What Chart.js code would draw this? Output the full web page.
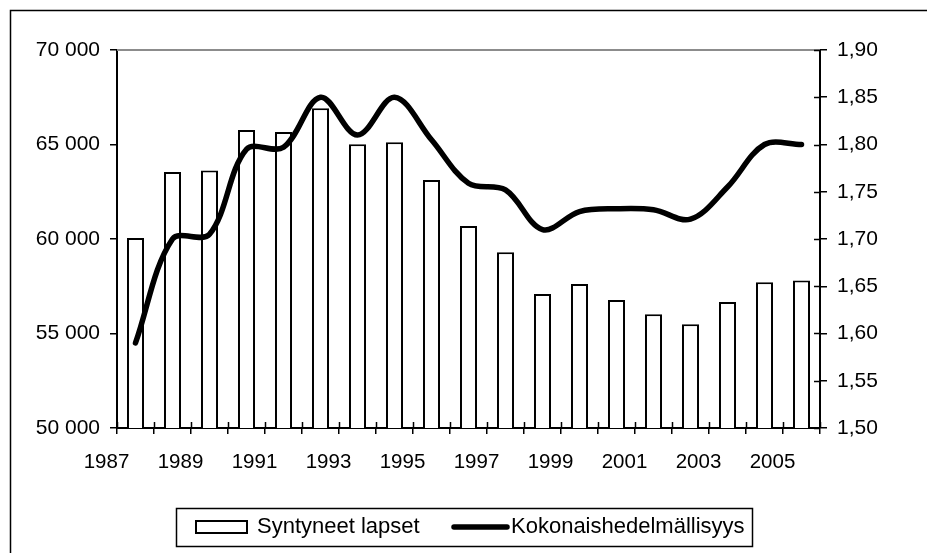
<!DOCTYPE html>
<html lang="fi">
<head>
    <meta charset="UTF-8">
    <title>Syntyneet lapset ja kokonaishedelmällisyys</title>
    <script src="https://cdn.jsdelivr.net/npm/chart.js"></script>
    <style>
        body { margin: 0; background: #fff; }
        canvas { display: block; }
    </style>
</head>
<body>
    <canvas id="birthChart" width="927" height="553"></canvas>

    <script>
        // Data
        const years = ['1987', '1988', '1989', '1990', '1991', '1992', '1993', '1994', '1995', '1996',
                       '1997', '1998', '1999', '2000', '2001', '2002', '2003', '2004', '2005'];
        const births = [60050, 63540, 63630, 65770, 65660, 66920, 65010, 65120, 63120, 60690,
                        59300, 57090, 57620, 56770, 56020, 55490, 56670, 57710, 57810];
        const fertility = [1.59, 1.70, 1.705, 1.795, 1.797, 1.85, 1.81, 1.85, 1.805, 1.759,
                           1.752, 1.71, 1.729, 1.732, 1.731, 1.721, 1.755, 1.80, 1.80];
        const birthsLabel = 'Syntyneet lapset';
        const fertilityLabel = 'Kokonaishedelmällisyys';

        const FONT = '"Liberation Sans", Arial, sans-serif';

        const fmtThousands = v => String(Math.round(v)).replace(/\B(?=(\d{3})+(?!\d))/g, ' ');
        const fmtDecimal = v => Number(v).toFixed(2).replace('.', ',');

        // background, plot frame, inner tick halves, outer frame and boxed legend
        const framePlugin = {
            id: 'frame',
            beforeDraw(chart) {
                const c = chart.ctx;
                c.save();
                c.fillStyle = '#fff';
                c.fillRect(0, 0, chart.width, chart.height);
                c.restore();
            },
            beforeDatasetsDraw(chart) {
                const { ctx, chartArea: a } = chart;
                ctx.save();
                ctx.strokeStyle = '#8c8c8c';
                ctx.lineWidth = 2;
                ctx.beginPath();
                ctx.moveTo(a.left, a.top);
                ctx.lineTo(a.right, a.top);
                ctx.stroke();
                ctx.restore();
            },
            afterDraw(chart) {
                const { ctx, chartArea: a, scales } = chart;
                ctx.save();
                ctx.strokeStyle = '#000';
                ctx.lineWidth = 1.5;

                // x ticks cross the axis: draw the inner half
                const x = scales.x;
                const step = x.getPixelForValue(1) - x.getPixelForValue(0);
                ctx.beginPath();
                for (let i = 0; i <= years.length; i++) {
                    const px = Math.round(x.getPixelForValue(i) - step / 2) + 0.5;
                    ctx.moveTo(px, a.bottom);
                    ctx.lineTo(px, a.bottom - 6);
                }
                // right axis ticks cross too
                const y1 = scales.y1;
                y1.ticks.forEach(t => {
                    const py = Math.round(y1.getPixelForValue(t.value)) + 0.5;
                    ctx.moveTo(a.right, py);
                    ctx.lineTo(a.right - 6, py);
                });
                ctx.stroke();

                // outer chart frame (top and left edges visible)
                ctx.lineWidth = 1.5;
                ctx.beginPath();
                ctx.moveTo(10.5, chart.height);
                ctx.lineTo(10.5, 10.5);
                ctx.lineTo(chart.width, 10.5);
                ctx.stroke();

                // legend box
                const lg = { left: 176, top: 508, width: 576, height: 38 };
                ctx.lineWidth = 1.5;
                ctx.strokeRect(lg.left + 0.5, lg.top + 0.5, lg.width, lg.height);

                const midY = lg.top + lg.height / 2;
                const barDs = chart.data.datasets[0];
                const lineDs = chart.data.datasets[1];

                ctx.fillStyle = barDs.backgroundColor;
                ctx.strokeStyle = barDs.borderColor;
                ctx.lineWidth = 2;
                ctx.fillRect(196, midY - 6, 51, 12);
                ctx.strokeRect(196, midY - 6, 51, 12);

                ctx.fillStyle = '#000';
                ctx.font = '22px ' + FONT;
                ctx.textBaseline = 'alphabetic';
                ctx.fillText(barDs.label, 257, midY + 6);

                ctx.strokeStyle = lineDs.borderColor;
                ctx.lineWidth = lineDs.borderWidth;
                ctx.lineCap = 'round';
                ctx.beginPath();
                ctx.moveTo(454, midY);
                ctx.lineTo(507, midY);
                ctx.stroke();

                ctx.fillText(lineDs.label, 511, midY + 6);
                ctx.restore();
            }
        };

        const ctx = document.getElementById('birthChart').getContext('2d');
        const birthChart = new Chart(ctx, {
            type: 'bar',
            data: {
                labels: years,
                datasets: [
                    {
                        type: 'bar',
                        label: birthsLabel,
                        data: births,
                        yAxisID: 'y',
                        backgroundColor: '#ffffff',
                        borderColor: '#000000',
                        borderWidth: 2,
                        borderSkipped: false,
                        categoryPercentage: 1.0,
                        barPercentage: 0.46,
                        order: 2
                    },
                    {
                        type: 'line',
                        label: fertilityLabel,
                        data: fertility,
                        yAxisID: 'y1',
                        borderColor: '#000000',
                        borderWidth: 5.5,
                        borderCapStyle: 'round',
                        borderJoinStyle: 'round',
                        tension: 0.35,
                        pointRadius: 0,
                        fill: false,
                        order: 1
                    }
                ]
            },
            options: {
                responsive: false,
                animation: false,
                layout: { padding: { top: 50, left: 0, right: 0, bottom: 0 } },
                plugins: {
                    legend: { display: false },
                    tooltip: { enabled: false }
                },
                scales: {
                    x: {
                        offset: true,
                        afterFit(s) { s.height = 125; },
                        border: { color: '#000', width: 2 },
                        grid: {
                            offset: true,
                            drawOnChartArea: false,
                            color: '#000',
                            lineWidth: 1.5,
                            tickLength: 6
                        },
                        ticks: {
                            autoSkip: false,
                            maxRotation: 0,
                            minRotation: 0,
                            labelOffset: -29,
                            padding: 16,
                            color: '#000',
                            font: { family: FONT, size: 20.5 },
                            callback(val, i) {
                                return i % 2 === 0 ? this.getLabelForValue(val) : '';
                            }
                        }
                    },
                    y: {
                        position: 'left',
                        min: 50000,
                        max: 70000,
                        afterFit(s) { s.width = 117; },
                        border: { color: '#000', width: 2 },
                        grid: {
                            drawOnChartArea: false,
                            color: '#000',
                            lineWidth: 1.5,
                            tickLength: 7
                        },
                        ticks: {
                            stepSize: 5000,
                            padding: 10,
                            color: '#000',
                            font: { family: FONT, size: 21 },
                            callback: v => fmtThousands(v)
                        }
                    },
                    y1: {
                        position: 'right',
                        min: 1.5,
                        max: 1.9,
                        afterFit(s) { s.width = 107; },
                        border: { color: '#000', width: 2 },
                        grid: {
                            drawOnChartArea: false,
                            color: '#000',
                            lineWidth: 1.5,
                            tickLength: 7
                        },
                        ticks: {
                            stepSize: 0.05,
                            padding: 10,
                            color: '#000',
                            font: { family: FONT, size: 21 },
                            callback: v => fmtDecimal(v)
                        }
                    }
                }
            },
            plugins: [framePlugin]
        });
    </script>
</body>
</html>
